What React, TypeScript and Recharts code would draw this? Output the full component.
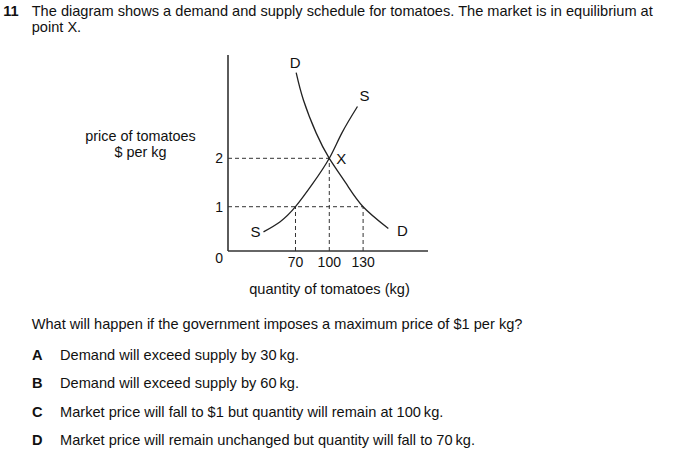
import React from 'react';
import { ComposedChart, Line, XAxis, YAxis, ReferenceLine, ReferenceDot } from 'recharts';

// Data
const demand = [
  { q: 70.6, p: 3.77 },
  { q: 77.1, p: 3.2 },
  { q: 88.4, p: 2.52 },
  { q: 100, p: 2 },
  { q: 114.9, p: 1.48 },
  { q: 130, p: 1 },
  { q: 152.4, p: 0.55 },
];
const supply = [
  { q: 41.6, p: 0.48 },
  { q: 56.4, p: 0.69 },
  { q: 70, p: 1 },
  { q: 85.4, p: 1.48 },
  { q: 100, p: 2 },
  { q: 111.1, p: 2.52 },
  { q: 125, p: 3.07 },
];
const xTicks = [70, 100, 130];
const yTicks = [1, 2];
const X_MIN = 10.1;
const X_MAX = 187.6;
const Y_MIN = 0.085;
const Y_MAX = 4.134;

const titleNo = '11';
const titleLines = [
  'The diagram shows a demand and supply schedule for tomatoes. The market is in equilibrium at',
  'point X.',
];
const question = 'What will happen if the government imposes a maximum price of $1 per kg?';
const optionLetters = ['A', 'B', 'C', 'D'];
const optionTexts = [
  'Demand will exceed supply by 30\u2009kg.',
  'Demand will exceed supply by 60\u2009kg.',
  'Market price will fall to $1 but quantity will remain at 100\u2009kg.',
  'Market price will remain unchanged but quantity will fall to 70\u2009kg.',
];

const FONT = '"Liberation Sans", Arial, sans-serif';
const INK = '#111';
const FS = 14.6;

const YTick = (props: any) => {
  const { x, y, payload } = props;
  const isZero = Math.abs(payload.value - Y_MIN) < 1e-6;
  return (
    <text x={x} y={y} dy={isZero ? 11.5 : 5} textAnchor="end" fontSize={14} fontFamily={FONT} fill={INK}>
      {isZero ? '0' : String(payload.value)}
    </text>
  );
};

const XTick = (props: any) => {
  const { x, y, payload } = props;
  return (
    <text x={x} y={y} dy={10} textAnchor="middle" fontSize={14} fontFamily={FONT} fill={INK}>
      {String(payload.value)}
    </text>
  );
};

const letter = (t: string, dx: number, dy: number) => (props: any) => (
  <text x={props.cx + dx} y={props.cy + dy} textAnchor="middle" fontSize={15} fontFamily={FONT} fill={INK}>
    {t}
  </text>
);

const dash = { stroke: '#333', strokeWidth: 1, strokeDasharray: '4 3' };

export default function App() {
  const dFirst = demand[0];
  const dLast = demand[demand.length - 1];
  const sFirst = supply[0];
  const sLast = supply[supply.length - 1];
  return (
    <div style={{ position: 'absolute', left: 0, top: 0, width: 676, height: 453, background: '#fff', fontFamily: FONT }}>
      <svg width={676} height={453} style={{ position: 'absolute', left: 0, top: 0 }}>
        <text x={3.3} y={15.5} fontSize={FS} fontWeight="bold" fontFamily={FONT} fill={INK}>{titleNo}</text>
        <text x={31.7} y={15.5} fontSize={FS} fontFamily={FONT} fill={INK}>{titleLines[0]}</text>
        <text x={31.7} y={32} fontSize={FS} fontFamily={FONT} fill={INK}>{titleLines[1]}</text>
        <text x={140.5} y={140.5} textAnchor="middle" fontSize={14.4} fontFamily={FONT} fill={INK}>price of tomatoes</text>
        <text x={140.5} y={157} textAnchor="middle" fontSize={14.4} fontFamily={FONT} fill={INK}>$ per kg</text>
        <text x={329.5} y={294} textAnchor="middle" fontSize={FS} fontFamily={FONT} fill={INK}>quantity of tomatoes (kg)</text>
        <text x={31.7} y={329} fontSize={FS} fontFamily={FONT} fill={INK}>{question}</text>
        {optionLetters.map((l, i) => (
          <g key={l}>
            <text x={32} y={360 + i * 28.4} fontSize={FS} fontWeight="bold" fontFamily={FONT} fill={INK}>{l}</text>
            <text x={60} y={360 + i * 28.4} fontSize={FS} fontFamily={FONT} fill={INK}>{optionTexts[i]}</text>
          </g>
        ))}
      </svg>
      <div style={{ position: 'absolute', left: 0, top: 0 }}>
        <ComposedChart width={676} height={453} margin={{ top: 55, left: 227, right: 248, bottom: 200 }}>
          <XAxis
            type="number"
            dataKey="q"
            domain={[X_MIN, X_MAX]}
            allowDataOverflow
            ticks={xTicks}
            tickLine={false}
            tickSize={0}
            tickMargin={6}
            height={2}
            axisLine={{ stroke: '#333', strokeWidth: 1.6 }}
            tick={<XTick />}
          />
          <YAxis
            type="number"
            dataKey="p"
            domain={[Y_MIN, Y_MAX]}
            allowDataOverflow
            ticks={[Y_MIN, ...yTicks]}
            tickLine={false}
            tickSize={0}
            tickMargin={5}
            width={1}
            axisLine={{ stroke: '#333', strokeWidth: 1.6 }}
            tick={<YTick />}
          />
          <ReferenceLine segment={[{ x: X_MIN, y: 2 }, { x: 100, y: 2 }]} {...dash} />
          <ReferenceLine segment={[{ x: X_MIN, y: 1 }, { x: 130, y: 1 }]} {...dash} />
          <ReferenceLine segment={[{ x: 70, y: Y_MIN }, { x: 70, y: 1 }]} {...dash} />
          <ReferenceLine segment={[{ x: 100, y: Y_MIN }, { x: 100, y: 2 }]} {...dash} />
          <ReferenceLine segment={[{ x: 130, y: Y_MIN }, { x: 130, y: 1 }]} {...dash} />
          <Line data={demand} dataKey="p" type="natural" stroke="#222" strokeWidth={1.3} dot={false} isAnimationActive={false} />
          <Line data={supply} dataKey="p" type="natural" stroke="#222" strokeWidth={1.3} dot={false} isAnimationActive={false} />
          <ReferenceDot x={dFirst.q} y={dFirst.p} r={0} shape={letter('D', -1, -5)} />
          <ReferenceDot x={sLast.q} y={sLast.p} r={0} shape={letter('S', 7, -6)} />
          <ReferenceDot x={100} y={2} r={0} shape={letter('X', 12, 6)} />
          <ReferenceDot x={sFirst.q} y={sFirst.p} r={0} shape={letter('S', -8, 5.5)} />
          <ReferenceDot x={dLast.q} y={dLast.p} r={0} shape={letter('D', 14, 8)} />
        </ComposedChart>
      </div>
    </div>
  );
}
